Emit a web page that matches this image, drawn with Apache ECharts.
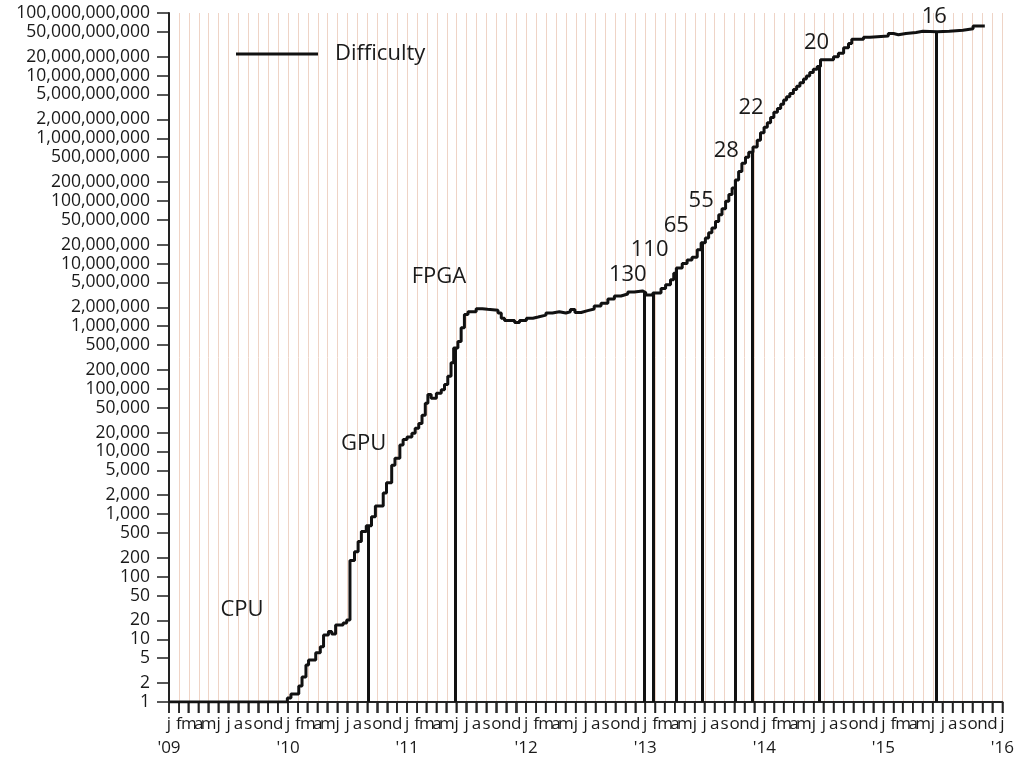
<!DOCTYPE html>
<html><head><meta charset="utf-8">
<script src="https://cdn.jsdelivr.net/npm/echarts@6/dist/echarts.min.js"></script>
<style>html,body{margin:0;padding:0;background:#fff}#c{width:1017px;height:764px}</style>
</head><body><div id="c"></div>
<script>
// ---- data ----
const diffDates = [
'2009-01-03','2009-12-30','2010-01-10','2010-02-03','2010-02-13','2010-02-25','2010-03-05','2010-03-27',
'2010-04-10','2010-04-20','2010-05-05','2010-05-15','2010-05-27','2010-06-19','2010-06-30','2010-07-10',
'2010-07-24','2010-08-04','2010-08-14','2010-08-29','2010-09-14','2010-09-26','2010-10-20','2010-10-30',
'2010-11-15','2010-11-25','2010-12-10','2010-12-20','2011-01-01','2011-01-16','2011-01-26','2011-02-06',
'2011-02-16','2011-02-26','2011-03-06','2011-03-16','2011-04-01','2011-04-16','2011-04-26','2011-05-06',
'2011-05-16','2011-05-24','2011-06-06','2011-06-16','2011-06-26','2011-07-07','2011-08-01','2011-08-20',
'2011-09-05','2011-10-07','2011-10-17','2011-10-27','2011-11-27','2011-12-12','2012-01-02','2012-01-22',
'2012-02-07','2012-03-02','2012-03-22','2012-04-12','2012-05-02','2012-05-16','2012-05-30','2012-06-18',
'2012-07-08','2012-07-28','2012-08-18','2012-09-08','2012-09-28','2012-10-18','2012-11-08','2012-11-28',
'2012-12-23','2013-01-02','2013-01-24','2013-02-18','2013-03-04','2013-03-19','2013-03-29','2013-04-06',
'2013-04-24','2013-05-09','2013-05-24','2013-06-09','2013-06-21','2013-07-04','2013-07-14','2013-07-24',
'2013-08-04','2013-08-14','2013-08-24','2013-09-04','2013-09-14','2013-09-24','2013-10-04','2013-10-14',
'2013-10-24','2013-11-04','2013-11-14','2013-11-27','2013-12-10','2013-12-20','2013-12-31','2014-01-10',
'2014-01-20','2014-01-30','2014-02-10','2014-02-20','2014-03-01','2014-03-10','2014-03-20','2014-03-31',
'2014-04-10','2014-04-20','2014-05-01','2014-05-10','2014-05-20','2014-05-31','2014-06-12','2014-06-22',
'2014-08-01','2014-08-16','2014-09-01','2014-09-16','2014-09-26','2014-11-01','2014-11-21','2015-01-16',
'2015-02-01','2015-02-16','2015-03-11','2015-04-11','2015-05-02','2015-06-15','2015-07-22','2015-09-02',
'2015-10-03','2015-11-08'
];
const diffValues = [
1,1.16,1.34,1.8,2.5,3.9,4.7,6.1,
7.6,11.7,13.3,12.2,17,18.3,20.4,181,
250,364,526,650,911,1350,2170,3170,
6000,7800,12700,15500,17000,19600,23400,28000,
38000,59000,81000,71000,85000,97000,117000,159000,
260000,450000,570000,940000,1530000,1700000,1900000,1860000,
1800000,1620000,1340000,1230000,1140000,1230000,1340000,1400000,
1500000,1620000,1700000,1620000,1700000,1840000,1650000,1770000,
1880000,2100000,2330000,2710000,3040000,3270000,3520000,3650000,
3450000,3150000,3400000,4000000,4600000,5500000,7000000,8500000,
10000000,11400000,12600000,16600000,21500000,25500000,31000000,37000000,
47000000,60000000,75000000,99000000,126000000,160000000,215000000,295000000,
400000000,500000000,600000000,725000000,930000000,1220000000,1500000000,1770000000,
2140000000,2600000000,3000000000,3500000000,4100000000,4600000000,5200000000,6000000000,
6800000000,7700000000,8800000000,9900000000,11200000000,12700000000,14000000000,18000000000,
20000000000,22800000000,27800000000,32600000000,38000000000,41000000000,43000000000,47000000000,
45000000000,47200000000,49000000000,51000000000,50000000000,51000000000,53000000000,56000000000,
62000000000,62000000000
];
// dates of the vertical process-node markers
const markerDates = ['2010-09-03','2011-05-28','2012-12-29','2013-01-24','2013-04-07','2013-06-24','2013-10-04','2013-11-25','2014-06-17','2015-06-12'];
// annotation texts and their anchor (date, value)
const noteNames  = ['CPU','GPU','FPGA','130','110','65','55','28','22','20','16'];
const noteDates  = ['2009-08-13','2010-08-21','2011-04-09','2012-11-08','2013-01-14','2013-04-06','2013-06-21','2013-09-06','2013-11-21','2014-06-10','2015-06-06'];
const noteValues = [29.4,13150,6.1e6,6.56e6,1.64e7,3.97e7,9.96e7,6.25e8,3.04e9,3.31e10,8.61e10];
// tick labels
const monthLetters = ['j','f','m','a','m','j','j','a','s','o','n','d'];
const yearLabels = {2009:"'09",2010:"'10",2011:"'11",2012:"'12",2013:"'13",2014:"'14",2015:"'15",2016:"'16"};
const yTickValues = [1,2,5,10,20,50,100,200,500,1000,2000,5000,10000,20000,50000,100000,200000,500000,
  1000000,2000000,5000000,10000000,20000000,50000000,100000000,200000000,500000000,
  1000000000,2000000000,5000000000,10000000000,20000000000,50000000000,100000000000];
const firstYear = 2009, lastYear = 2016;

// ---- build ----
const monthKeys = [];
for (let y = firstYear; y <= lastYear; y++) {
  for (let m = 0; m < 12; m++) {
    if (y === lastYear && m > 0) break;
    monthKeys.push(y + '-' + String(m + 1).padStart(2, '0'));
  }
}
const tickData = monthKeys.map(k => [k + '-01', 1]);
const seriesData = diffDates.map((d, i) => [d, diffValues[i]]);
function valueAt(dateStr) {
  const t = new Date(dateStr).getTime();
  let v = diffValues[0];
  for (let i = 0; i < diffDates.length; i++) {
    if (new Date(diffDates[i]).getTime() <= t) v = diffValues[i];
  }
  return v;
}
const markData = markerDates.map(d => [{coord: [d, 1]}, {coord: [d, valueAt(d)]}]);
const noteData = noteNames.map((n, i) => ({name: n, value: [noteDates[i], noteValues[i]]}));

const FONT = 'Open Sans';
const TXT = '#1a1a1a';
const chart = echarts.init(document.getElementById('c'), null, {renderer: 'canvas'});
chart.setOption({
  animation: false,
  backgroundColor: '#fff',
  grid: {left: 169, right: 10, top: 13, bottom: 62, containLabel: false},
  legend: {
    data: ['Difficulty'], left: 231, top: 38, icon: 'rect', itemWidth: 82, itemHeight: 3,
    textStyle: {fontFamily: FONT, fontSize: 22, color: TXT, padding: [0, 0, 0, 12]}
  },
  xAxis: [
    {
      type: 'time', min: firstYear + '-01-01', max: lastYear + '-01-01', show: false,
      splitLine: {show: false}
    },
    {
      type: 'category', data: monthKeys, boundaryGap: false, position: 'bottom',
      axisLine: {show: true, onZero: false, lineStyle: {color: '#222', width: 2}},
      axisTick: {show: true, inside: false, interval: 0, length: 11, lineStyle: {color: '#222', width: 1.5}},
      splitLine: {show: true, interval: 0, lineStyle: {color: '#efd4c6', width: 1}},
      axisLabel: {
        interval: 0, showMinLabel: true, showMaxLabel: true, hideOverlap: false,
        margin: 10, fontFamily: FONT, fontSize: 17, color: TXT, lineHeight: 24,
        formatter: function (key) {
          const y = +key.slice(0, 4), m = +key.slice(5, 7) - 1;
          const letter = monthLetters[m];
          return m === 0 ? letter + '\n' + yearLabels[y] : letter;
        }
      }
    }
  ],
  yAxis: {
    type: 'log', logBase: 10, min: 1, max: 100000000000,
    axisLine: {show: true, onZero: false, lineStyle: {color: '#222', width: 2}},
    axisTick: {show: true, inside: false, customValues: yTickValues, length: 12, lineStyle: {color: '#222', width: 1.5}},
    splitLine: {show: false},
    axisLabel: {
      customValues: yTickValues, margin: 19, fontFamily: FONT, fontSize: 17.5, color: TXT,
      formatter: v => Math.round(v).toLocaleString('en-US')
    }
  },
  series: [
    {
      name: 'Difficulty', type: 'line', xAxisIndex: 0, step: 'end', symbol: 'none', data: seriesData,
      lineStyle: {color: '#111', width: 3}, itemStyle: {color: '#111'},
      markLine: {
        silent: true, symbol: ['none', 'none'], label: {show: false},
        lineStyle: {color: '#111', width: 3, type: 'solid'}, data: markData
      },
      z: 3
    },
    {
      name: 'notes', type: 'scatter', xAxisIndex: 0, symbolSize: 0, data: noteData, silent: true,
      itemStyle: {opacity: 1},
      label: {show: true, position: 'inside', formatter: '{b}', fontFamily: FONT, fontSize: 22, color: TXT, opacity: 1},
      z: 4
    },
    {
      name: 'monthTicks', type: 'custom', xAxisIndex: 0, data: tickData, silent: true, clip: false,
      encode: {x: 0, y: 1},
      renderItem: function (params, api) {
        const p = api.coord([api.value(0), api.value(1)]);
        return {type: 'line', shape: {x1: p[0], y1: p[1], x2: p[0], y2: p[1] + 11},
          style: {stroke: '#222', lineWidth: 1.5}};
      },
      z: 2
    }
  ]
});
</script></body></html>
